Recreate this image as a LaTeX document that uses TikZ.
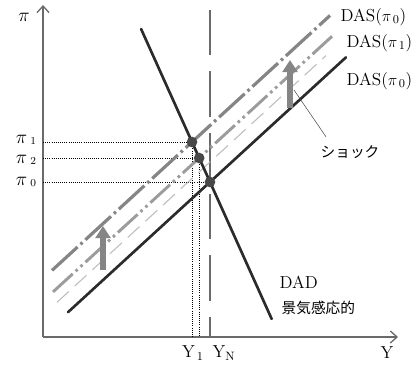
\documentclass[tikz,border=0pt]{standalone}
\usepackage{fontspec}
\newfontfamily\jpfont{Noto Sans CJK JP}
\usetikzlibrary{arrows.meta, positioning, calc}
\definecolor{AxisGray}{HTML}{6A6A6A}
\definecolor{CurveBlack}{HTML}{2B2B2B}
\definecolor{ShiftGray}{HTML}{858585}
\definecolor{MidGray}{HTML}{9C9C9C}
\definecolor{PaleGray}{HTML}{BDBDBD}
\definecolor{DotGray}{HTML}{484848}

\newcommand{\pisub}[1]{$\pi$\,\raisebox{-0.6pt}{\footnotesize #1}}

\tikzset{
  axis/.style={draw=AxisGray, line width=1pt, -{Straight Barb[length=5pt,width=9pt]}},
  curve/.style={draw=CurveBlack, line width=2pt, line cap=round},
  guide/.style={draw=black, densely dotted, line width=0.6pt},
  eqpoint/.style={circle, fill=DotGray, inner sep=0pt, minimum size=8pt},
  shockarrow/.style={draw=ShiftGray, line width=4.5pt, -{Triangle[length=9pt,width=11pt]}},
  lbl/.style={font=\fontsize{13}{15}\selectfont, inner sep=1pt},
  ticklbl/.style={font=\fontsize{14}{15}\selectfont, inner sep=0pt}
}

\begin{document}
\begin{tikzpicture}[x=0.75pt, y=-0.75pt]
  \useasboundingbox (0,0) rectangle (416,364);

  % axes
  \coordinate (O) at (43,337);
  \coordinate (ytop) at (43,5);
  \coordinate (xend) at (398,337);
  \draw[axis] (O) -- (ytop);
  \draw[axis] (O) -- (xend);
  \node[ticklbl] (pi) at (24,17) {$\pi$};
  \node[lbl] (Y) at (387,353) {Y};

  % equilibrium points
  \coordinate (E0) at (210,182);
  \coordinate (E1) at (192,142);
  \coordinate (E2) at (199.2,158);

  % natural output
  \draw[AxisGray, line width=0.8pt, dash pattern=on 34pt off 12pt] (210,10) -- (210,337);

  % guides to the axes
  \draw[guide] (43,142) -- (E1);
  \draw[guide] (43,158) -- (E2);
  \draw[guide] (43,182) -- (E0);
  \draw[guide] (E1) -- (192,337);
  \draw[guide] (E2) -- (199.2,337);

  % DAS curves
  \draw[PaleGray, line width=0.8pt, dash pattern=on 12pt off 6pt] (57,302.3) -- (326,55.6);
  \draw[MidGray, line width=2.2pt, dash pattern=on 20pt off 3pt on 2pt off 3pt on 2pt off 3pt]
    (53,291.9) -- (332,36.3);
  \draw[ShiftGray, line width=2.4pt, dash pattern=on 26pt off 3pt on 2pt off 3pt]
    (52,270.4) -- (330,15.5);
  \draw[curve] (68,312.2) -- (346,57.3);

  % DAD curve
  \draw[curve] (141.1,29) -- (271.7,319);

  \node[eqpoint] (P1) at (E1) {};
  \node[eqpoint] (P2) at (E2) {};
  \node[eqpoint] (P0) at (E0) {};

  % shocks
  \coordinate (shockL) at (103,270);
  \coordinate (shockR) at (290,108);
  \draw[shockarrow] (shockL) -- ++(0,-44);
  \draw[shockarrow] (shockR) -- ++(0,-48);
  \node[font=\jpfont\fontsize{11}{13}\selectfont, anchor=west] (shock) at (316,152) {ショック};
  \draw[black!70, line width=0.4pt] ($(shock.north west)+(10,-4)$) -- ($(shockR)+(4,-18)$);

  % labels
  \node[ticklbl] (pi1) at (26,140) {\pisub{1}};
  \node[ticklbl] (pi2) at (26,159.5) {\pisub{2}};
  \node[ticklbl] (pi0) at (26,182) {\pisub{0}};
  \node[lbl] (Y1) at (193,353) {Y$_{\,1}$};
  \node[lbl] (YN) at (224,353) {Y$_{\mathrm{N}}$};
  \node[lbl, anchor=west] (das0new) at (339,17) {DAS($\pi_{\,0}$)};
  \node[lbl, anchor=west] (das1) at (345,43) {DAS($\pi_{\,1}$)};
  \node[lbl, anchor=west] (das0) at (345,81) {DAS($\pi_{\,0}$)};
  \node[lbl, anchor=west] (dad) at (278,282) {DAD};
  \node[font=\jpfont\fontsize{11}{13}\selectfont, anchor=west] (dadnote) at (277,308) {景気感応的};
\end{tikzpicture}
\end{document}
